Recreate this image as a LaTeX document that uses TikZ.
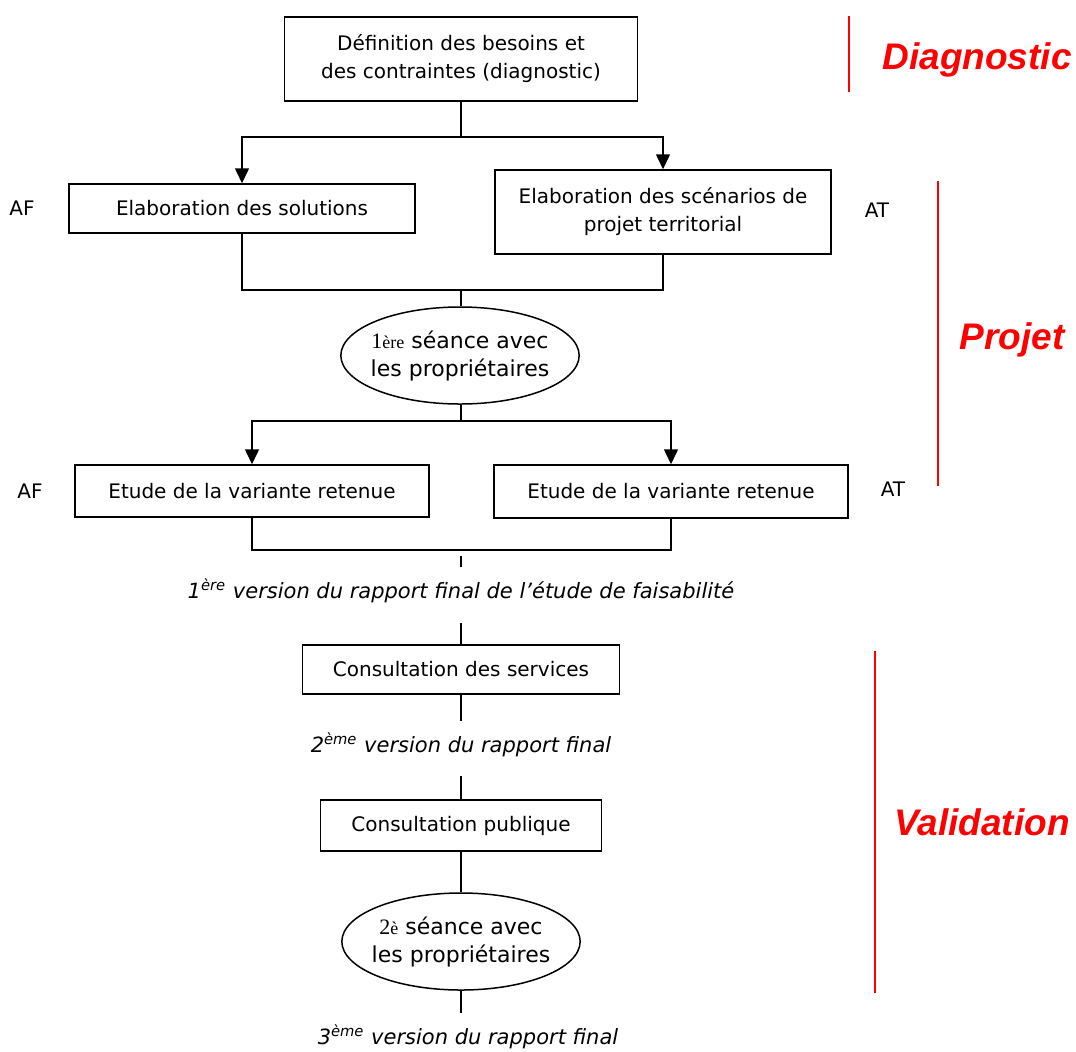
\documentclass[tikz,border=0pt]{standalone}
\usepackage{fontspec}
\setmainfont{DejaVu Sans}
\newfontfamily\tms{Liberation Serif}
\newfontfamily\arl{Liberation Sans}
\usetikzlibrary{shapes.geometric,arrows.meta}

\begin{document}
\begin{tikzpicture}[x=0.5pt,y=-0.5pt,line width=0.75pt,
 every node/.style={font=\fontsize{10}{14}\selectfont},
 etape/.style={draw,align=center,inner sep=0pt},
 seance/.style={draw,ellipse,align=center,inner xsep=-2.5pt,inner ysep=0pt,minimum width=119pt,minimum height=48.5pt,font=\fontsize{11}{14}\selectfont},
 version/.style={inner sep=0pt,minimum height=23pt,font=\fontsize{10.5}{12}\selectfont\itshape},
 phase/.style={font=\fontsize{18.5}{22}\selectfont\arl\bfseries\itshape,text=red},
 borne/.style={red,line width=1pt},
 fleche/.style={-{Triangle[width=7pt,length=7.5pt]}}]
\useasboundingbox (0,0) rectangle (1076,1051);
\node[etape,minimum width=176.5pt,minimum height=42pt] (diag) at (461,59) {Définition des besoins et\\des contraintes (diagnostic)};
\node[etape,minimum width=173pt,minimum height=24.5pt] (sol) at (242,208.5) {Elaboration des solutions};
\node[etape,minimum width=168pt,minimum height=42pt] (scen) at (663,212) {Elaboration des scénarios de\\projet territorial};
\node (af1) at (22,208) {AF};
\node (at1) at (877,210) {AT};
\node[seance] (sea1) at (460,355.5) {{\tms 1{\fontsize{9}{10}\selectfont ère}} séance avec\\les propriétaires};
\node[etape,minimum width=177pt,minimum height=26pt] (varF) at (252,491) {Etude de la variante retenue};
\node[etape,minimum width=177pt,minimum height=26.5pt] (varT) at (671,491.5) {Etude de la variante retenue};
\node (af2) at (30,491) {AF};
\node (at2) at (893,489) {AT};
\node[version] (v1) at (461,591) {1\textsuperscript{ère} version du rapport final de l’étude de faisabilité};
\node[etape,minimum width=158.5pt,minimum height=24.5pt] (serv) at (461,669.5) {Consultation des services};
\node[version] (v2) at (461,745) {2\textsuperscript{ème} version du rapport final};
\node[etape,minimum width=140.5pt,minimum height=25.5pt] (pub) at (461,825.5) {Consultation publique};
\node[seance] (sea2) at (461,941.5) {{\tms 2{\fontsize{9}{10}\selectfont è}} séance avec\\les propriétaires};
\node[version] (v3) at (468,1037) {3\textsuperscript{ème} version du rapport final};
\coordinate (b1) at (461,137);
\coordinate (b2) at (461,290);
\coordinate (b3) at (461,421);
\coordinate (b4) at (461,550);
\coordinate (t1) at (461,556);
\draw (diag) -- (b1);
\draw[fleche] (b1) -| (sol);
\draw[fleche] (b1) -| (scen);
\draw (sol) |- (b2) -| (scen);
\draw (b2) -- (b2 |- sea1.north);
\draw (sea1.south -| b3) -- (b3);
\draw[fleche] (b3) -| (varF);
\draw[fleche] (b3) -| (varT);
\draw (varF) |- (b4) -| (varT);
\draw (t1) -- (v1);
\draw[shorten <=4pt] (v1) -- (serv);
\draw (serv) -- (v2);
\draw[shorten <=3.5pt] (v2) -- (pub);
\draw (pub) -- (sea2);
\draw (sea2) -- (sea2 |- v3.north);
\draw[borne] (849,16) -- (849,92);
\draw[borne] (938,181) -- (938,486);
\draw[borne] (875,651) -- (875,993);
\node[phase] (diagL) at (977,60) {Diagnostic};
\node[phase] (projL) at (1012,340) {Projet};
\node[phase] (valL) at (982,822) {Validation};
\end{tikzpicture}
\end{document}
